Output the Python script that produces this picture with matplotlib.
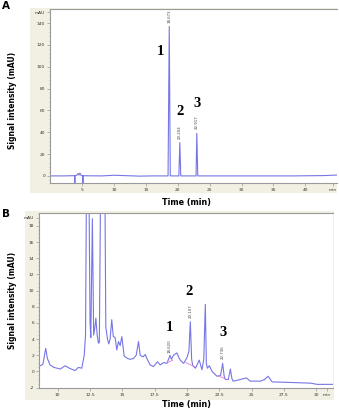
import matplotlib
matplotlib.use("Agg")
import matplotlib.pyplot as plt
from matplotlib.patches import Rectangle
from matplotlib.ticker import MultipleLocator

# ---------------- data ----------------
# Panel A chromatogram (time in min, signal in mAU)
a_time = [0.0, 2.0, 3.5, 3.78, 3.79, 3.81, 3.82, 4.1, 4.3, 4.45, 4.6, 4.8, 5.05, 5.06, 5.08, 5.09,
          6.0, 8.0, 10.0, 12.0, 14.0, 16.0, 18.45, 18.64, 18.8, 20.15, 20.3, 20.45,
          22.85, 22.97, 23.12, 30.0, 38.0, 43.0, 45.0]
a_sig = [0.0, 0.0, 0.2, 0.2, -8.0, -8.0, 0.3, 0.6, 2.2, 0.8, 2.6, 0.4, 0.2, -8.0, -8.0, 0.2,
         0.1, 0.0, 0.6, 0.2, -0.2, 0.0, 0.0, 137.0, 0.0, 0.0, 30.5, 0.0,
         0.0, 39.0, 0.0, 0.0, 0.0, 0.3, 0.8]
a_peak_num = ["1", "2", "3"]
a_peak_rt = ["18.673", "20.204", "22.917"]
a_num_pos_t = [17.3, 20.3, 23.0]
a_num_pos_v = [114, 59, 66]
a_rt_pos_t = [18.64, 20.3, 22.97]
a_rt_pos_v = [146, 40, 49]
a_xticks = [5, 10, 15, 20, 25, 30, 35, 40]
a_yticks = [0, 20, 40, 60, 80, 100, 120, 140]

# Panel B chromatogram
b_time = [8.55, 8.85, 9.07, 9.2, 9.4, 9.7, 10.2, 10.57, 10.9, 11.34, 11.6, 11.86, 12.05, 12.15,
          12.25, 12.38, 12.5, 12.56, 12.68, 12.78, 12.88, 12.95, 13.05, 13.15, 13.22, 13.35,
          13.62, 13.72, 13.85, 13.95, 14.05, 14.18, 14.3, 14.44, 14.57, 14.7, 14.83, 14.96,
          15.14, 15.4, 15.6, 15.86, 16.07, 16.25, 16.38, 16.6, 16.77, 16.9, 17.15, 17.41,
          17.72, 17.93, 18.19, 18.45, 18.6, 18.68, 18.8, 18.96, 19.22, 19.35, 19.48, 19.74,
          20.0, 20.15, 20.26, 20.36, 20.45, 20.66, 20.95, 21.16, 21.3, 21.42, 21.5, 21.58,
          21.73, 21.94, 22.06, 22.33, 22.6, 22.76, 22.88, 22.97, 23.2, 23.36, 23.48, 23.57,
          23.88, 24.6, 24.9, 25.7, 26.0, 26.28, 26.59, 27.75, 29.56, 30.08, 31.3]
b_sig = [0.6, 0.9, 2.85, 1.6, 0.8, 0.5, 0.3, 0.7, 0.4, 0.1, 0.5, 0.4, 2.0, 4.5,
         30.0, 30.0, 6.0, 4.2, 18.9, 4.5, 5.5, 6.6, 4.5, 3.5, 3.6, 30.0,
         30.0, 5.5, 4.0, 3.4, 4.0, 6.4, 4.3, 4.2, 2.65, 3.7, 3.2, 4.3,
         1.9, 1.6, 1.5, 1.6, 2.0, 3.7, 2.0, 1.8, 2.1, 1.6, 0.8, 0.6,
         1.2, 0.8, 1.1, 1.0, 1.6, 2.0, 1.5, 2.0, 2.3, 1.8, 1.4, 1.0,
         1.7, 2.5, 6.15, 1.5, 0.7, 0.4, 1.4, 0.2, 1.5, 8.3, 1.0, 0.4,
         0.7, 0.0, -0.2, -0.6, -0.5, 1.0, -0.6, -1.0, -1.0, 0.3, -0.9, -1.2,
         -1.1, -0.8, -1.2, -1.2, -1.0, -0.6, -1.3, -1.35, -1.45, -1.6, -1.6]
b_base_t = [[18.5, 18.9], [19.9, 20.6], [22.45, 23.0]]
b_base_v = [[1.1, 1.4], [1.1, 0.6], [-0.55, -0.95]]
b_peak_num = ["1", "2", "3"]
b_peak_rt = ["18.620", "20.107", "22.736"]
b_num_pos_t = [18.63, 20.2, 22.79]
b_num_pos_v = [5.4, 9.85, 4.8]
b_rt_pos_t = [18.68, 20.26, 22.78]
b_rt_pos_v = [3.1, 7.5, 2.4]
b_xticks = [10, 12.5, 15, 17.5, 20, 22.5, 25, 27.5, 30]
b_yticks = [-2, 0, 2, 4, 6, 8, 10, 12, 14, 16, 18]

# ---------------- style ----------------
W, H = 339, 408
TRACE = "#7676e6"
PINK = "#e07ad8"
BEIGE = "#f1f0e2"
GRID = "#9a9a9a"

fig = plt.figure(figsize=(W / 100, H / 100), dpi=100)
fig.patch.set_facecolor("white")


def fx(px):
    return px / W


def fy(py):
    return 1 - py / H


def panel(box_px, ax_px):
    x0, y0, x1, y1 = box_px
    fig.patches.append(Rectangle((fx(x0), fy(y1)), fx(x1) - fx(x0), fy(y0) - fy(y1),
                                 transform=fig.transFigure, facecolor=BEIGE,
                                 edgecolor="none", zorder=-5))
    l, t, r, b = ax_px
    ax = fig.add_axes([fx(l), fy(b), fx(r) - fx(l), fy(t) - fy(b)])
    ax.set_zorder(2)
    ax.set_facecolor("white")
    ax.spines["right"].set_visible(False)
    for s in ["left", "bottom", "top"]:
        ax.spines[s].set_color(GRID)
        ax.spines[s].set_linewidth(0.8)
    ax.tick_params(axis="both", which="major", labelsize=3.2, length=2, width=0.5,
                   color=GRID, pad=1.5, labelcolor="#333333")
    ax.tick_params(axis="y", which="minor", length=1, width=0.4, color=GRID)
    return ax


# ---------------- panel A ----------------
axA = panel((30, 8, 337, 193), (50, 9, 337, 183))
axA.plot(a_time, a_sig, color=TRACE, lw=0.8)
axA.set_xlim(-0.1, 45)
axA.set_ylim(-6.5, 153)
axA.set_xticks(a_xticks + [44.4])
axA.set_xticklabels([str(v) for v in a_xticks] + ["min"])
axA.set_yticks(a_yticks + [150])
axA.set_yticklabels([str(v) for v in a_yticks] + ["mAU"])
axA.yaxis.set_minor_locator(MultipleLocator(4))
for n, t, v in zip(a_peak_num, a_num_pos_t, a_num_pos_v):
    axA.text(t, v, n, fontsize=10.5, fontweight="bold", family="Liberation Serif",
             ha="center", va="center")
for r, t, v in zip(a_peak_rt, a_rt_pos_t, a_rt_pos_v):
    axA.text(t, v, r, fontsize=2.8, rotation=90, ha="center", va="center", color="#444444")
fig.text(fx(13), fy(100), "Signal intensity (mAU)", rotation=90, fontsize=5.5,
         fontweight="bold", ha="center", va="center")
fig.text(fx(186), fy(202), "Time (min)", fontsize=5.8, fontweight="bold",
         ha="center", va="center")
fig.text(fx(2), fy(6), "A", fontsize=7.5, fontweight="bold", ha="left", va="center")

# ---------------- panel B ----------------
axB = panel((25, 211, 334, 400), (39, 213, 333, 388))
axB.plot(b_time, b_sig, color=TRACE, lw=0.8)
for bt, bv in zip(b_base_t, b_base_v):
    axB.plot(bt, bv, color=PINK, lw=0.6)
axB.set_xlim(8.55, 31.3)
axB.set_ylim(-2.05, 19.6)
axB.set_xticks(b_xticks + [30.85])
axB.set_xticklabels([f"{v:g}" for v in b_xticks] + ["min"])
axB.set_yticks(b_yticks + [19.0])
axB.set_yticklabels([str(v) for v in b_yticks] + ["mAU"])
axB.yaxis.set_minor_locator(MultipleLocator(0.5))
for n, t, v in zip(b_peak_num, b_num_pos_t, b_num_pos_v):
    axB.text(t, v, n, fontsize=10.5, fontweight="bold", family="Liberation Serif",
             ha="center", va="center")
for r, t, v in zip(b_peak_rt, b_rt_pos_t, b_rt_pos_v):
    axB.text(t, v, r, fontsize=2.8, rotation=90, ha="center", va="center", color="#444444")
fig.text(fx(13), fy(300), "Signal intensity (mAU)", rotation=90, fontsize=5.5,
         fontweight="bold", ha="center", va="center")
fig.text(fx(186), fy(400.5), "Time (min)", fontsize=5.8, fontweight="bold",
         ha="center", va="top")
fig.text(fx(2), fy(214), "B", fontsize=7.5, fontweight="bold", ha="left", va="center")

fig.savefig("out.png", dpi=100)
